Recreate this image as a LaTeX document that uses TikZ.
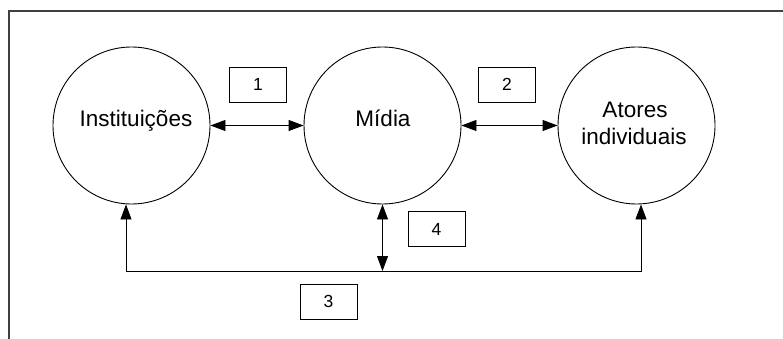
\documentclass[tikz,border=0pt]{standalone}
\usepackage{fontspec}
\setmainfont{Liberation Sans}
\usetikzlibrary{arrows.meta}
\begin{document}
\begin{tikzpicture}[x=1pt,y=-1pt,
  actor/.style={circle,draw=black,line width=0.9pt,minimum size=157pt,inner sep=0pt},
  lbl/.style={font=\fontsize{22.5}{27}\selectfont,inner sep=0pt,anchor=base},
  numbox/.style={draw=black,line width=0.8pt,minimum width=57pt,minimum height=35pt,inner sep=0pt,font=\fontsize{17.5}{20}\selectfont},
  link/.style={line width=0.9pt,{Triangle[length=15pt,width=11pt]}-{Triangle[length=15pt,width=11pt]}},
  frame/.style={draw=black!75,line width=1.6pt}]
\useasboundingbox (0,0) rectangle (783,339);
\draw[frame] (9,339) -- (9,11) -- (783,11);
\node[actor] (inst) at (131.5,125.5) {};
\node[actor] (midia) at (382.5,125.5) {};
\node[actor] (atores) at (636.5,125.5) {};
\node[lbl] (tinst) at (136,127) {Instituições};
\node[lbl] (tmidia) at (383,127) {Mídia};
\node[lbl] (tatores) at (635,118) {Atores};
\node[lbl] (tind) at (634,145) {individuais};
\node[numbox] (b1) at (258,84.5) {1};
\node[numbox] (b2) at (507,84.5) {2};
\node[numbox] (b3) at (328.5,301.5) {3};
\node[numbox] (b4) at (436.5,229) {4};
\coordinate (bl) at (126,271);
\coordinate (br) at (641,271);
\coordinate (bm) at (382.5,271);
\draw[link] (inst) -- (midia);
\draw[link] (midia) -- (atores);
\draw[link] (bl |- inst.south) -- (bl) -- (br) -- (br |- atores.south);
\draw[link] (midia.south) -- (bm);
\end{tikzpicture}
\end{document}
